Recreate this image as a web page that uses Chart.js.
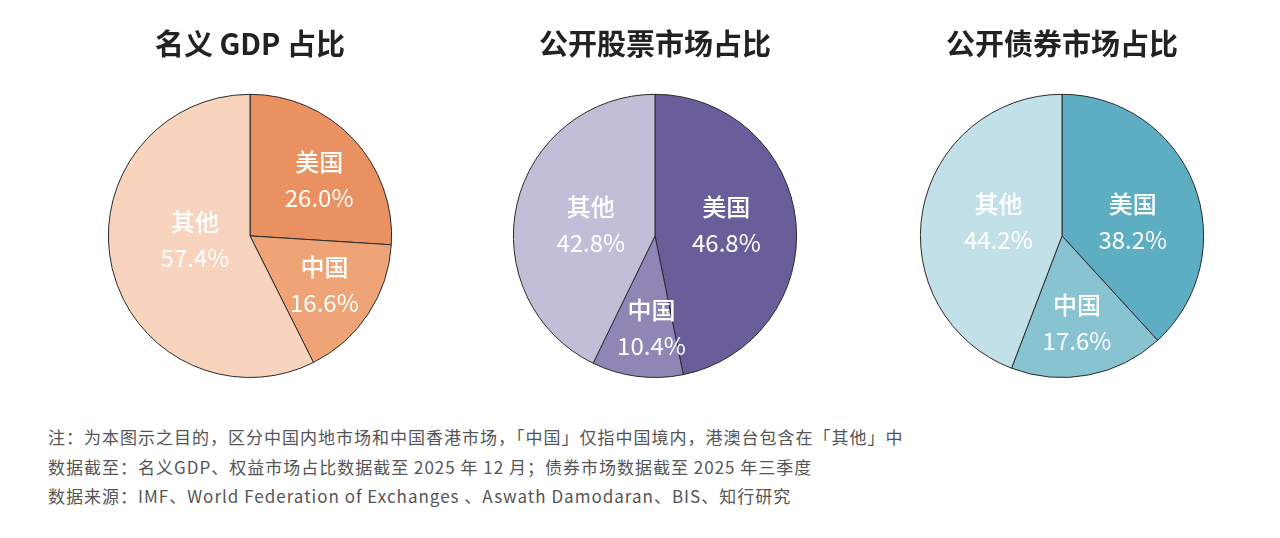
<!DOCTYPE html>
<html><head><meta charset="utf-8">
<script src="https://cdn.jsdelivr.net/npm/chart.js@4/dist/chart.umd.min.js"></script>
<style>
html,body{margin:0;padding:0;background:#fff;width:1280px;height:538px;overflow:hidden;font-family:"Noto Sans CJK SC","Noto Sans",sans-serif;}
.box{position:absolute;top:0;width:400px;height:385px;}
.note{position:absolute;left:48px;color:#555;font-size:17px;line-height:18px;letter-spacing:1px;white-space:nowrap;}
</style></head>
<body>
<div class="box" style="left:50px"><canvas id="c1"></canvas></div>
<div class="box" style="left:455px"><canvas id="c2"></canvas></div>
<div class="box" style="left:862px"><canvas id="c3"></canvas></div>
<div class="note" style="top:428px">注：为本图示之目的，区分中国内地市场和中国香港市场，「中国」仅指中国境内，港澳台包含在「其他」中</div>
<div class="note" style="top:458px">数据截至：名义GDP、权益市场占比数据截至 2025 年 12 月；债券市场数据截至 2025 年三季度</div>
<div class="note" style="top:487px">数据来源：IMF、World Federation of Exchanges 、Aswath Damodaran、BIS、知行研究</div>
<script>
const categories = ['美国', '中国', '其他'];
const gdpShare = [26.0, 16.6, 57.4];
const equityShare = [46.8, 10.4, 42.8];
const bondShare = [38.2, 17.6, 44.2];
const chartTitles = ['名义 GDP 占比', '公开股票市场占比', '公开债券市场占比'];

const palettes = [
  ['#E99160', '#EEA477', '#F8D4BE'],
  ['#695E99', '#8F86B5', '#C2BED8'],
  ['#5EAEC3', '#88C3D2', '#C1E0E7']
];
const labelPlacement = [
  [{r:0.63,a:4},{r:0.63,a:0},{r:0.39,a:9}],
  [{r:0.51,a:-3},{r:0.65,a:-5},{r:0.46,a:-3}],
  [{r:0.51,a:10},{r:0.62,a:1},{r:0.46,a:2}]
];

const sliceLabels = {
  id: 'sliceLabels',
  afterDatasetsDraw(chart, args, opts) {
    const ctx = chart.ctx;
    const meta = chart.getDatasetMeta(0);
    const ds = chart.data.datasets[0];
    meta.data.forEach((arc, i) => {
      const p = opts.placement[i];
      const mid = (arc.startAngle + arc.endAngle) / 2 + p.a * Math.PI / 180;
      const rr = arc.outerRadius * p.r;
      const x = arc.x + Math.cos(mid) * rr;
      const y = arc.y + Math.sin(mid) * rr;
      ctx.save();
      ctx.fillStyle = '#ffffff';
      ctx.textAlign = 'center';
      ctx.textBaseline = 'middle';
      ctx.font = '500 24px "Noto Sans CJK SC"';
      ctx.fillText(chart.data.labels[i], x, y - 18);
      ctx.font = '400 24px "Noto Sans CJK SC"';
      ctx.fillText(ds.data[i].toFixed(1) + '%', x, y + 18);
      ctx.restore();
    });
  }
};

function makePie(id, values, title, colors, placement) {
  new Chart(document.getElementById(id), {
    type: 'pie',
    data: {
      labels: categories,
      datasets: [{ data: values, backgroundColor: colors, borderColor: '#2a2a2a', borderWidth: 1 }]
    },
    options: {
      responsive: true,
      maintainAspectRatio: false,
      animation: false,
      layout: { padding: { top: 0, bottom: 7, left: 0, right: 0 } },
      plugins: {
        legend: { display: false },
        tooltip: { enabled: false },
        title: {
          display: true, text: title, color: '#222',
          font: { family: '"Noto Sans CJK SC"', size: 29, weight: 'bold', lineHeight: 1.2 },
          padding: { top: 27, bottom: 32 }
        },
        sliceLabels: { placement: placement }
      }
    },
    plugins: [sliceLabels]
  });
}
makePie('c1', gdpShare, chartTitles[0], palettes[0], labelPlacement[0]);
makePie('c2', equityShare, chartTitles[1], palettes[1], labelPlacement[1]);
makePie('c3', bondShare, chartTitles[2], palettes[2], labelPlacement[2]);
</script>
</body></html>
